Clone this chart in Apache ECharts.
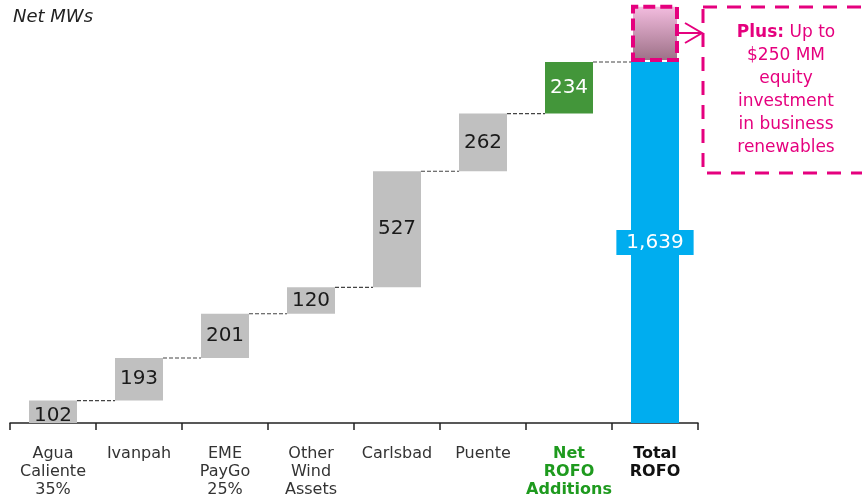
<!DOCTYPE html>
<html>
<head>
<meta charset="utf-8">
<script src="https://cdn.jsdelivr.net/npm/echarts@6/dist/echarts.min.js"></script>
<style>
html,body{margin:0;padding:0;background:#fff;}
#chart{width:862px;height:501px;}
</style>
</head>
<body>
<div id="chart"></div>
<script>
const categories = ['Agua\nCaliente\n35%', 'Ivanpah', 'EME\nPayGo\n25%', 'Other\nWind\nAssets', 'Carlsbad', 'Puente', 'Net\nROFO\nAdditions', 'Total\nROFO'];
const increments = [102, 193, 201, 120, 527, 262, 234];
const totalValue = 1639;
const equityBoxValue = 260; // visual height of the "Plus" box
const yMax = 1900;

const FONT = 'DejaVu Sans';
const GRAY = '#C0C0C0', GREEN = '#43963A', BLUE = '#00ADEF', MAGENTA = '#E5007E';

// cumulative bases
const bases = [];
let run = 0;
increments.forEach(v => { bases.push(run); run += v; });
const cumTops = increments.map((v, i) => bases[i] + v);

const baseData = bases.concat([0]);
const valueData = increments.map((v, i) => ({
  value: v,
  itemStyle: { color: i === increments.length - 1 ? GREEN : GRAY },
  label: {
    color: i === increments.length - 1 ? '#fff' : '#1a1a1a',
    offset: i === 0 ? [0, 4] : [0, 0]
  }
})).concat([{
  value: totalValue,
  itemStyle: { color: BLUE },
  label: {
    color: '#fff',
    backgroundColor: BLUE,
    padding: [3, 10, 2, 10]
  }
}]);
const plusData = categories.map((c, i) => i === categories.length - 1 ? equityBoxValue : '-');

// connectors: from each cumulative top to next bar
const connectorData = cumTops.map((v, i) => [i, v]);

const chart = echarts.init(document.getElementById('chart'), null, { renderer: 'canvas' });
const BAR_W = 48;

chart.setOption({
  animation: false,
  textStyle: { fontFamily: FONT },
  title: {
    text: 'Net MWs', left: 8, top: 3,
    textStyle: { fontFamily: FONT, fontStyle: 'italic', fontWeight: 'normal', fontSize: 18, color: '#222' }
  },
  grid: { left: 10, right: 164, top: 4.5, bottom: 78, containLabel: false },
  xAxis: {
    type: 'category',
    data: categories,
    axisLine: { lineStyle: { color: '#222', width: 1.5 } },
    axisTick: { show: true, length: 7, lineStyle: { color: '#222', width: 1.5 } },
    axisLabel: {
      interval: 0, margin: 22,
      formatter: (v, i) => v.split('\n').map(l => `{s${i}|${l}}`).join('\n'),
      rich: (() => {
        const r = {};
        categories.forEach((c, i) => {
          r['s' + i] = {
            fontFamily: FONT, fontSize: 16, lineHeight: 18, align: 'center',
            color: i === 6 ? '#1E9A1E' : (i === 7 ? '#111' : '#333'),
            fontWeight: i >= 6 ? 'bold' : 'normal'
          };
        });
        return r;
      })()
    }
  },
  yAxis: { type: 'value', min: 0, max: yMax, show: false, splitLine: { show: false } },
  series: [
    {
      name: 'base', type: 'bar', stack: 'w', barWidth: BAR_W,
      itemStyle: { color: 'transparent' }, data: baseData, silent: true
    },
    {
      name: 'value', type: 'bar', stack: 'w', barWidth: BAR_W,
      data: valueData,
      label: {
        show: true, position: 'inside', fontFamily: FONT, fontSize: 20,
        formatter: p => p.value.toLocaleString('en-US')
      }
    },
    {
      name: 'plus', type: 'bar', stack: 'w', barWidth: BAR_W,
      data: plusData,
      itemStyle: {
        color: new echarts.graphic.LinearGradient(0, 0, 0, 1, [
          { offset: 0, color: '#F6BFE2' },
          { offset: 1, color: '#9A6E84' }
        ]),
        borderColor: MAGENTA, borderWidth: 4, borderType: [12, 5]
      }
    },
    {
      name: 'connectors', type: 'custom', z: 1,
      data: connectorData,
      renderItem: (params, api) => {
        const i = api.value(0);
        const v = api.value(1);
        const p = api.coord([i, v]);
        const step = api.size([1, 0])[0];
        return {
          type: 'line',
          shape: { x1: p[0] + BAR_W / 2, y1: p[1], x2: p[0] + step - BAR_W / 2, y2: p[1] },
          style: { stroke: '#444', lineWidth: 1.2, lineDash: [4, 2] }
        };
      }
    }
  ],
  graphic: [
    {
      type: 'rect', shape: { x: 703, y: 7, width: 190, height: 166 },
      style: { fill: 'none', stroke: MAGENTA, lineWidth: 3, lineDash: [14, 10] }
    },
    {
      type: 'polyline', shape: { points: [[678, 33], [702, 33]] },
      style: { stroke: MAGENTA, lineWidth: 2, fill: 'none' }
    },
    {
      type: 'polyline', shape: { points: [[685, 23], [702, 33], [685, 43]] },
      style: { stroke: MAGENTA, lineWidth: 2, fill: 'none' }
    },
    {
      type: 'text', x: 786, y: 90,
      style: {
        text: '{b|Plus:} Up to\n$250 MM\nequity\ninvestment\nin business\nrenewables',
        align: 'center', verticalAlign: 'middle',
        fill: MAGENTA, font: '17px "DejaVu Sans"', lineHeight: 23,
        rich: { b: { fontWeight: 'bold', fill: MAGENTA, fontSize: 17, fontFamily: FONT, lineHeight: 23 } }
      }
    }
  ]
});
</script>
</body>
</html>
